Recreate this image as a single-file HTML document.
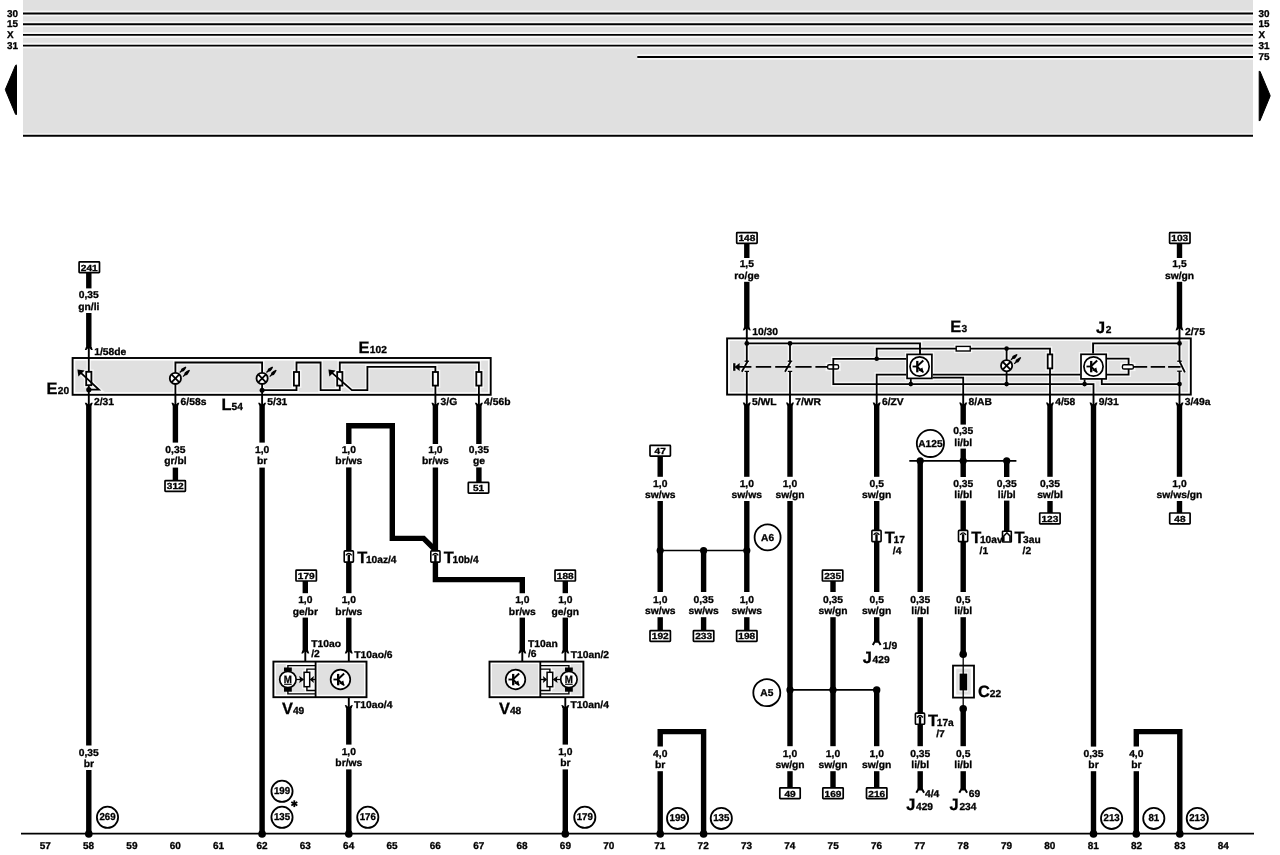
<!DOCTYPE html>
<html><head><meta charset="utf-8"><title>Wiring diagram</title>
<style>
html,body{margin:0;padding:0;background:#fff;}
svg{display:block;will-change:transform;}
svg text{font-family:"Liberation Sans",sans-serif;font-weight:bold;fill:#000;stroke:#000;stroke-width:0.3px;text-rendering:geometricPrecision;}
</style></head>
<body>
<svg width="1280" height="855" viewBox="0 0 1280 855">
<rect x="0" y="0" width="1280" height="855" fill="#fff"/>
<rect x="23" y="0" width="1230" height="133.5" fill="#e0e0e0"/>
<rect x="75.19999999999999" y="360.4" width="412.90000000000003" height="32.000000000000014" fill="#e0e0e0"/>
<rect x="275.8" y="664" width="88.3" height="30.8" fill="#e0e0e0"/>
<rect x="303.9" y="669.5" width="10.7" height="20.6" fill="#f2f2f2"/>
<rect x="491.9" y="664" width="89.1" height="30.8" fill="#e0e0e0"/>
<rect x="541.3" y="669.5" width="11.6" height="20.6" fill="#f2f2f2"/>
<rect x="729.7" y="340.79999999999995" width="458.49999999999994" height="51.40000000000005" fill="#e0e0e0"/>
<line x1="23" y1="13.5" x2="1253" y2="13.5" stroke="#fff" stroke-opacity="0.72" stroke-width="5.5"/>
<line x1="23" y1="24.2" x2="1253" y2="24.2" stroke="#fff" stroke-opacity="0.72" stroke-width="5.5"/>
<line x1="23" y1="34.9" x2="1253" y2="34.9" stroke="#fff" stroke-opacity="0.72" stroke-width="5.5"/>
<line x1="23" y1="45.6" x2="1253" y2="45.6" stroke="#fff" stroke-opacity="0.72" stroke-width="5.5"/>
<line x1="637.3" y1="57" x2="1253" y2="57" stroke="#fff" stroke-opacity="0.72" stroke-width="5.5"/>
<line x1="23" y1="135.7" x2="1253" y2="135.7" stroke="#fff" stroke-opacity="0.72" stroke-width="2.1"/>
<line x1="21" y1="833.6" x2="1254" y2="833.6" stroke="#fff" stroke-opacity="0.72" stroke-width="4.7"/>
<rect x="72.6" y="358" width="418.1" height="36.8" fill="none" stroke="#fff" stroke-opacity="0.72" stroke-width="4.7"/>
<line x1="88.8" y1="358" x2="88.8" y2="394.8" stroke="#fff" stroke-opacity="0.72" stroke-width="4.6"/>
<rect x="86.2" y="371.8" width="5.2" height="13.4" fill="none" stroke="#fff" stroke-opacity="0.72" stroke-width="4.6"/>
<polyline points="79.8,371.8 98.9,389.7 88.8,389.7" fill="none" stroke="#fff" stroke-opacity="0.72" stroke-width="4.6"/>
<polyline points="175.4,394.8 175.4,362.5 262.1,362.5 262.1,394.8" fill="none" stroke="#fff" stroke-opacity="0.72" stroke-width="4.6"/>
<line x1="171.7" y1="374.7" x2="179.1" y2="382.1" stroke="#fff" stroke-opacity="0.72" stroke-width="4.6"/>
<line x1="171.7" y1="382.1" x2="179.1" y2="374.7" stroke="#fff" stroke-opacity="0.72" stroke-width="4.6"/>
<line x1="258.4" y1="374.7" x2="265.8" y2="382.1" stroke="#fff" stroke-opacity="0.72" stroke-width="4.6"/>
<line x1="258.4" y1="382.1" x2="265.8" y2="374.7" stroke="#fff" stroke-opacity="0.72" stroke-width="4.6"/>
<polyline points="262.1,390.2 296.5,390.2 296.5,362.5 320.6,362.5 320.6,390.2 339.8,390.2 339.8,362.5 478.9,362.5 478.9,394.8" fill="none" stroke="#fff" stroke-opacity="0.72" stroke-width="4.6"/>
<rect x="293.9" y="372" width="5.2" height="13.6" fill="none" stroke="#fff" stroke-opacity="0.72" stroke-width="4.6"/>
<rect x="337.2" y="372" width="5.2" height="13.6" fill="none" stroke="#fff" stroke-opacity="0.72" stroke-width="4.6"/>
<rect x="476.3" y="372" width="5.2" height="13.6" fill="none" stroke="#fff" stroke-opacity="0.72" stroke-width="4.6"/>
<polyline points="330.6,371.6 351.9,390.2 367.4,390.2 367.4,366.9 435.4,366.9 435.4,394.8" fill="none" stroke="#fff" stroke-opacity="0.72" stroke-width="4.6"/>
<rect x="432.8" y="372" width="5.2" height="13.6" fill="none" stroke="#fff" stroke-opacity="0.72" stroke-width="4.6"/>
<rect x="79.1" y="261.8" width="20.4" height="10.8" fill="none" stroke="#fff" stroke-opacity="0.72" stroke-width="4.5"/>
<line x1="88.8" y1="346.7" x2="88.8" y2="358" stroke="#fff" stroke-opacity="0.72" stroke-width="4.7"/>
<line x1="88.8" y1="394.8" x2="88.8" y2="405.7" stroke="#fff" stroke-opacity="0.72" stroke-width="4.7"/>
<line x1="175.4" y1="394.8" x2="175.4" y2="405.7" stroke="#fff" stroke-opacity="0.72" stroke-width="4.7"/>
<rect x="165" y="480.6" width="20.4" height="10.8" fill="none" stroke="#fff" stroke-opacity="0.72" stroke-width="4.5"/>
<line x1="262.1" y1="394.8" x2="262.1" y2="405.7" stroke="#fff" stroke-opacity="0.72" stroke-width="4.7"/>
<line x1="294.3" y1="800.3" x2="294.3" y2="807.1" stroke="#fff" stroke-opacity="0.72" stroke-width="4.6"/>
<line x1="291.3" y1="801.9" x2="297.3" y2="805.5" stroke="#fff" stroke-opacity="0.72" stroke-width="4.6"/>
<line x1="291.3" y1="805.5" x2="297.3" y2="801.9" stroke="#fff" stroke-opacity="0.72" stroke-width="4.6"/>
<polyline points="348.8,444 348.8,425.8 392.3,425.8 392.3,538.4 423.6,538.4 435.4,550.2" fill="none" stroke="#fff" stroke-opacity="0.72" stroke-width="8.2"/>
<rect x="344.2" y="550.9" width="9.2" height="11.2" fill="none" stroke="#fff" stroke-opacity="0.72" stroke-width="4.4"/>
<line x1="348.8" y1="554.7" x2="348.8" y2="562.1" stroke="#fff" stroke-opacity="0.72" stroke-width="5.2"/>
<line x1="435.4" y1="394.8" x2="435.4" y2="405.7" stroke="#fff" stroke-opacity="0.72" stroke-width="4.7"/>
<polyline points="435.4,467.4 435.4,579.6 522.3,579.6 522.3,593.2" fill="none" stroke="#fff" stroke-opacity="0.72" stroke-width="8.2"/>
<rect x="430.8" y="550.9" width="9.2" height="11.2" fill="none" stroke="#fff" stroke-opacity="0.72" stroke-width="4.4"/>
<line x1="435.4" y1="554.7" x2="435.4" y2="562.1" stroke="#fff" stroke-opacity="0.72" stroke-width="5.2"/>
<line x1="478.9" y1="394.8" x2="478.9" y2="405.7" stroke="#fff" stroke-opacity="0.72" stroke-width="4.7"/>
<rect x="468.3" y="482.4" width="20.4" height="10.8" fill="none" stroke="#fff" stroke-opacity="0.72" stroke-width="4.5"/>
<rect x="273.4" y="661.6" width="93.1" height="35.6" fill="none" stroke="#fff" stroke-opacity="0.72" stroke-width="4.7"/>
<line x1="315.6" y1="661.6" x2="315.6" y2="697.2" stroke="#fff" stroke-opacity="0.72" stroke-width="4.6"/>
<polyline points="287.9,668.5 287.9,665.6 315.6,665.6" fill="none" stroke="#fff" stroke-opacity="0.72" stroke-width="4.2"/>
<polyline points="287.9,690.5 287.9,693.9 315.6,693.9" fill="none" stroke="#fff" stroke-opacity="0.72" stroke-width="4.2"/>
<line x1="284.1" y1="684.3" x2="291.7" y2="684.3" stroke="#fff" stroke-opacity="0.72" stroke-width="1.1"/>
<polyline points="306.9,672.5 306.9,669.1 315.6,669.1" fill="none" stroke="#fff" stroke-opacity="0.72" stroke-width="4.2"/>
<polyline points="306.9,686.5 306.9,690.5 315.6,690.5" fill="none" stroke="#fff" stroke-opacity="0.72" stroke-width="4.2"/>
<rect x="304.1" y="672.3" width="5.6" height="14.4" fill="none" stroke="#fff" stroke-opacity="0.72" stroke-width="4.3"/>
<line x1="296.2" y1="679.5" x2="301.9" y2="679.5" stroke="#fff" stroke-opacity="0.72" stroke-width="4.1"/>
<line x1="315.6" y1="679.5" x2="311.9" y2="679.5" stroke="#fff" stroke-opacity="0.72" stroke-width="4.1"/>
<line x1="338.15" y1="673.9" x2="338.15" y2="685.3" stroke="#fff" stroke-opacity="0.72" stroke-width="5.1"/>
<line x1="333.45" y1="679.5" x2="338.15" y2="679.5" stroke="#fff" stroke-opacity="0.72" stroke-width="4.6"/>
<line x1="338.55" y1="678.7" x2="344.15" y2="673.5" stroke="#fff" stroke-opacity="0.72" stroke-width="4.7"/>
<line x1="338.55" y1="680.3" x2="343.95" y2="685.1" stroke="#fff" stroke-opacity="0.72" stroke-width="4.7"/>
<rect x="489.5" y="661.6" width="93.9" height="35.6" fill="none" stroke="#fff" stroke-opacity="0.72" stroke-width="4.7"/>
<line x1="540.3" y1="661.6" x2="540.3" y2="697.2" stroke="#fff" stroke-opacity="0.72" stroke-width="4.6"/>
<polyline points="568.9,668.5 568.9,665.6 540.3,665.6" fill="none" stroke="#fff" stroke-opacity="0.72" stroke-width="4.2"/>
<polyline points="568.9,690.5 568.9,693.9 540.3,693.9" fill="none" stroke="#fff" stroke-opacity="0.72" stroke-width="4.2"/>
<line x1="565.1" y1="684.3" x2="572.7" y2="684.3" stroke="#fff" stroke-opacity="0.72" stroke-width="1.1"/>
<polyline points="549.9,672.5 549.9,669.1 540.3,669.1" fill="none" stroke="#fff" stroke-opacity="0.72" stroke-width="4.2"/>
<polyline points="549.9,686.5 549.9,690.5 540.3,690.5" fill="none" stroke="#fff" stroke-opacity="0.72" stroke-width="4.2"/>
<rect x="547.1" y="672.3" width="5.6" height="14.4" fill="none" stroke="#fff" stroke-opacity="0.72" stroke-width="4.3"/>
<line x1="560.6" y1="679.5" x2="554.9" y2="679.5" stroke="#fff" stroke-opacity="0.72" stroke-width="4.1"/>
<line x1="540.3" y1="679.5" x2="544.9" y2="679.5" stroke="#fff" stroke-opacity="0.72" stroke-width="4.1"/>
<line x1="513.2" y1="673.9" x2="513.2" y2="685.3" stroke="#fff" stroke-opacity="0.72" stroke-width="5.1"/>
<line x1="508.5" y1="679.5" x2="513.2" y2="679.5" stroke="#fff" stroke-opacity="0.72" stroke-width="4.6"/>
<line x1="513.6" y1="678.7" x2="519.2" y2="673.5" stroke="#fff" stroke-opacity="0.72" stroke-width="4.7"/>
<line x1="513.6" y1="680.3" x2="519" y2="685.1" stroke="#fff" stroke-opacity="0.72" stroke-width="4.7"/>
<rect x="296" y="570.2" width="20.4" height="10.8" fill="none" stroke="#fff" stroke-opacity="0.72" stroke-width="4.5"/>
<line x1="305.3" y1="650.3" x2="305.3" y2="661.6" stroke="#fff" stroke-opacity="0.72" stroke-width="4.7"/>
<line x1="348.8" y1="650.3" x2="348.8" y2="661.6" stroke="#fff" stroke-opacity="0.72" stroke-width="4.7"/>
<line x1="348.8" y1="697.2" x2="348.8" y2="708.1" stroke="#fff" stroke-opacity="0.72" stroke-width="4.7"/>
<line x1="522.3" y1="650.3" x2="522.3" y2="661.6" stroke="#fff" stroke-opacity="0.72" stroke-width="4.7"/>
<rect x="555" y="570.2" width="20.4" height="10.8" fill="none" stroke="#fff" stroke-opacity="0.72" stroke-width="4.5"/>
<line x1="565.3" y1="650.3" x2="565.3" y2="661.6" stroke="#fff" stroke-opacity="0.72" stroke-width="4.7"/>
<line x1="565.3" y1="697.2" x2="565.3" y2="708.1" stroke="#fff" stroke-opacity="0.72" stroke-width="4.7"/>
<polyline points="660.2,746.6 660.2,731.6 703.6,731.6 703.6,833.6" fill="none" stroke="#fff" stroke-opacity="0.72" stroke-width="8.2"/>
<rect x="727.1" y="338.4" width="463.7" height="56.2" fill="none" stroke="#fff" stroke-opacity="0.72" stroke-width="4.7"/>
<line x1="746.8" y1="338.4" x2="746.8" y2="343.4" stroke="#fff" stroke-opacity="0.72" stroke-width="4.6"/>
<polyline points="746.8,343.4 920,343.4 920,354" fill="none" stroke="#fff" stroke-opacity="0.72" stroke-width="4.7"/>
<line x1="746.8" y1="343.4" x2="746.8" y2="361.2" stroke="#fff" stroke-opacity="0.72" stroke-width="4.6"/>
<line x1="744.6" y1="361.2" x2="749" y2="361.2" stroke="#fff" stroke-opacity="0.72" stroke-width="4.1"/>
<line x1="744.6" y1="371.4" x2="749" y2="371.4" stroke="#fff" stroke-opacity="0.72" stroke-width="4.1"/>
<line x1="746.8" y1="371.4" x2="746.8" y2="394.6" stroke="#fff" stroke-opacity="0.72" stroke-width="4.6"/>
<line x1="741.8" y1="371.8" x2="747.8" y2="361" stroke="#fff" stroke-opacity="0.72" stroke-width="4.6"/>
<line x1="790" y1="343.4" x2="790" y2="361.2" stroke="#fff" stroke-opacity="0.72" stroke-width="4.6"/>
<line x1="787.8" y1="361.2" x2="792.2" y2="361.2" stroke="#fff" stroke-opacity="0.72" stroke-width="4.1"/>
<line x1="787.8" y1="371.4" x2="792.2" y2="371.4" stroke="#fff" stroke-opacity="0.72" stroke-width="4.1"/>
<line x1="790" y1="371.4" x2="790" y2="394.6" stroke="#fff" stroke-opacity="0.72" stroke-width="4.6"/>
<line x1="785" y1="371.8" x2="791" y2="361" stroke="#fff" stroke-opacity="0.72" stroke-width="4.6"/>
<line x1="734.3" y1="363.2" x2="734.3" y2="370.8" stroke="#fff" stroke-opacity="0.72" stroke-width="5.1"/>
<rect x="827.6" y="364.8" width="11" height="4.2" fill="none" stroke="#fff" stroke-opacity="0.72" stroke-width="4.2"/>
<polyline points="906.3,358.8 833.3,358.8 833.3,384.1 1093.5,384.1 1093.5,394.6" fill="none" stroke="#fff" stroke-opacity="0.72" stroke-width="4.6"/>
<polyline points="876.7,358.8 876.7,348.6 1050,348.6 1050,394.6" fill="none" stroke="#fff" stroke-opacity="0.72" stroke-width="4.6"/>
<rect x="956.2" y="346.4" width="14" height="4.6" fill="none" stroke="#fff" stroke-opacity="0.72" stroke-width="4.2"/>
<line x1="1006.6" y1="348.6" x2="1006.6" y2="384.1" stroke="#fff" stroke-opacity="0.72" stroke-width="4.6"/>
<line x1="1002.9" y1="362" x2="1010.3" y2="369.4" stroke="#fff" stroke-opacity="0.72" stroke-width="4.6"/>
<line x1="1002.9" y1="369.4" x2="1010.3" y2="362" stroke="#fff" stroke-opacity="0.72" stroke-width="4.6"/>
<rect x="1047.7" y="354.4" width="4.6" height="14" fill="none" stroke="#fff" stroke-opacity="0.72" stroke-width="4.6"/>
<polyline points="906.3,374.6 876.7,374.6 876.7,394.6" fill="none" stroke="#fff" stroke-opacity="0.72" stroke-width="4.6"/>
<line x1="932.7" y1="374.6" x2="1080.3" y2="374.6" stroke="#fff" stroke-opacity="0.72" stroke-width="4.6"/>
<polyline points="932.7,377.6 963.2,377.6 963.2,394.6" fill="none" stroke="#fff" stroke-opacity="0.72" stroke-width="4.6"/>
<rect x="907.1" y="354.4" width="24.8" height="24" fill="none" stroke="#fff" stroke-opacity="0.72" stroke-width="4.5"/>
<line x1="917.3" y1="360.9" x2="917.3" y2="372.3" stroke="#fff" stroke-opacity="0.72" stroke-width="5.1"/>
<line x1="912.6" y1="366.5" x2="917.3" y2="366.5" stroke="#fff" stroke-opacity="0.72" stroke-width="4.6"/>
<line x1="917.7" y1="365.7" x2="923.3" y2="360.5" stroke="#fff" stroke-opacity="0.72" stroke-width="4.7"/>
<line x1="917.7" y1="367.3" x2="923.1" y2="372.1" stroke="#fff" stroke-opacity="0.72" stroke-width="4.7"/>
<line x1="910.8" y1="379.1" x2="910.8" y2="384.1" stroke="#fff" stroke-opacity="0.72" stroke-width="4.6"/>
<polyline points="1093.1,353.6 1093.1,343.4 1179.5,343.4" fill="none" stroke="#fff" stroke-opacity="0.72" stroke-width="4.7"/>
<polyline points="1106.9,358.7 1128.6,358.7 1128.6,374.7 1106.9,374.7" fill="none" stroke="#fff" stroke-opacity="0.72" stroke-width="4.6"/>
<rect x="1122.4" y="364.8" width="11" height="4.2" fill="none" stroke="#fff" stroke-opacity="0.72" stroke-width="4.2"/>
<polyline points="1101.8,379 1101.8,384.1 1179.5,384.1" fill="none" stroke="#fff" stroke-opacity="0.72" stroke-width="4.6"/>
<line x1="1084.6" y1="379.6" x2="1084.6" y2="384.1" stroke="#fff" stroke-opacity="0.72" stroke-width="4.6"/>
<rect x="1081" y="354.3" width="25.2" height="24.6" fill="none" stroke="#fff" stroke-opacity="0.72" stroke-width="4.5"/>
<line x1="1091.2" y1="360.9" x2="1091.2" y2="372.3" stroke="#fff" stroke-opacity="0.72" stroke-width="5.1"/>
<line x1="1086.5" y1="366.5" x2="1091.2" y2="366.5" stroke="#fff" stroke-opacity="0.72" stroke-width="4.6"/>
<line x1="1091.6" y1="365.7" x2="1097.2" y2="360.5" stroke="#fff" stroke-opacity="0.72" stroke-width="4.7"/>
<line x1="1091.6" y1="367.3" x2="1097" y2="372.1" stroke="#fff" stroke-opacity="0.72" stroke-width="4.7"/>
<line x1="1179.5" y1="338.4" x2="1179.5" y2="361.2" stroke="#fff" stroke-opacity="0.72" stroke-width="4.6"/>
<line x1="1177.2" y1="361.2" x2="1181.8" y2="361.2" stroke="#fff" stroke-opacity="0.72" stroke-width="4.1"/>
<line x1="1177.2" y1="371.2" x2="1181.8" y2="371.2" stroke="#fff" stroke-opacity="0.72" stroke-width="4.1"/>
<line x1="1179.5" y1="371.2" x2="1179.5" y2="394.6" stroke="#fff" stroke-opacity="0.72" stroke-width="4.6"/>
<line x1="1179.3" y1="360.8" x2="1184.9" y2="372.4" stroke="#fff" stroke-opacity="0.72" stroke-width="4.6"/>
<rect x="736.7" y="232.6" width="20.4" height="10.8" fill="none" stroke="#fff" stroke-opacity="0.72" stroke-width="4.5"/>
<line x1="746.8" y1="327.1" x2="746.8" y2="338.4" stroke="#fff" stroke-opacity="0.72" stroke-width="4.7"/>
<line x1="746.8" y1="394.6" x2="746.8" y2="405.5" stroke="#fff" stroke-opacity="0.72" stroke-width="4.7"/>
<rect x="736.6" y="630.6" width="20.4" height="10.8" fill="none" stroke="#fff" stroke-opacity="0.72" stroke-width="4.5"/>
<rect x="650" y="445.4" width="20.4" height="10.8" fill="none" stroke="#fff" stroke-opacity="0.72" stroke-width="4.5"/>
<rect x="650" y="630.6" width="20.4" height="10.8" fill="none" stroke="#fff" stroke-opacity="0.72" stroke-width="4.5"/>
<rect x="693.4" y="630.6" width="20.4" height="10.8" fill="none" stroke="#fff" stroke-opacity="0.72" stroke-width="4.5"/>
<line x1="660.2" y1="550.5" x2="746.8" y2="550.5" stroke="#fff" stroke-opacity="0.72" stroke-width="4.5"/>
<line x1="790" y1="394.6" x2="790" y2="405.5" stroke="#fff" stroke-opacity="0.72" stroke-width="4.7"/>
<rect x="779.8" y="787.8" width="20.4" height="10.8" fill="none" stroke="#fff" stroke-opacity="0.72" stroke-width="4.5"/>
<rect x="822.4" y="570.2" width="20.4" height="10.8" fill="none" stroke="#fff" stroke-opacity="0.72" stroke-width="4.5"/>
<rect x="822.8" y="787.8" width="20.4" height="10.8" fill="none" stroke="#fff" stroke-opacity="0.72" stroke-width="4.5"/>
<line x1="790" y1="689.9" x2="876.7" y2="689.9" stroke="#fff" stroke-opacity="0.72" stroke-width="4.5"/>
<rect x="866.5" y="787.8" width="20.4" height="10.8" fill="none" stroke="#fff" stroke-opacity="0.72" stroke-width="4.5"/>
<line x1="876.7" y1="394.6" x2="876.7" y2="405.5" stroke="#fff" stroke-opacity="0.72" stroke-width="4.7"/>
<rect x="871.9" y="530.4" width="9.2" height="11.2" fill="none" stroke="#fff" stroke-opacity="0.72" stroke-width="4.4"/>
<line x1="876.5" y1="534.2" x2="876.5" y2="541.6" stroke="#fff" stroke-opacity="0.72" stroke-width="5.2"/>
<polyline points="872.8,644.9 874.7,641.8 878.7,641.8 880.6,644.9" fill="none" stroke="#fff" stroke-opacity="0.72" stroke-width="4.8"/>
<line x1="909.3" y1="460.8" x2="1016.4" y2="460.8" stroke="#fff" stroke-opacity="0.72" stroke-width="4.5"/>
<rect x="915.4" y="713.1" width="9.2" height="11.2" fill="none" stroke="#fff" stroke-opacity="0.72" stroke-width="4.4"/>
<line x1="920" y1="716.9" x2="920" y2="724.3" stroke="#fff" stroke-opacity="0.72" stroke-width="5.2"/>
<polyline points="916.3,792.7 918.2,789.6 922.2,789.6 924.1,792.7" fill="none" stroke="#fff" stroke-opacity="0.72" stroke-width="4.8"/>
<line x1="963.2" y1="394.6" x2="963.2" y2="405.5" stroke="#fff" stroke-opacity="0.72" stroke-width="4.7"/>
<rect x="958.5" y="530.4" width="9.2" height="11.2" fill="none" stroke="#fff" stroke-opacity="0.72" stroke-width="4.4"/>
<line x1="963.1" y1="534.2" x2="963.1" y2="541.6" stroke="#fff" stroke-opacity="0.72" stroke-width="5.2"/>
<line x1="963.2" y1="654.3" x2="963.2" y2="708.8" stroke="#fff" stroke-opacity="0.72" stroke-width="4.1"/>
<rect x="953" y="665.6" width="21" height="32" fill="none" stroke="#fff" stroke-opacity="0.72" stroke-width="4.6"/>
<line x1="963.2" y1="665.6" x2="963.2" y2="674" stroke="#fff" stroke-opacity="0.72" stroke-width="4.1"/>
<line x1="963.2" y1="690" x2="963.2" y2="697.6" stroke="#fff" stroke-opacity="0.72" stroke-width="4.1"/>
<polyline points="959.3,792.7 961.2,789.6 965.2,789.6 967.1,792.7" fill="none" stroke="#fff" stroke-opacity="0.72" stroke-width="4.8"/>
<rect x="1002.5" y="531.2" width="8.8" height="10.8" fill="none" stroke="#fff" stroke-opacity="0.72" stroke-width="4.4"/>
<polyline points="1003.8,541.6 1003.8,536 1006.9,532.8 1010,536 1010,541.6" fill="none" stroke="#fff" stroke-opacity="0.72" stroke-width="4.4"/>
<line x1="1050" y1="394.6" x2="1050" y2="405.5" stroke="#fff" stroke-opacity="0.72" stroke-width="4.7"/>
<rect x="1039.7" y="513" width="20.4" height="10.8" fill="none" stroke="#fff" stroke-opacity="0.72" stroke-width="4.5"/>
<line x1="1093.5" y1="394.6" x2="1093.5" y2="405.5" stroke="#fff" stroke-opacity="0.72" stroke-width="4.7"/>
<rect x="1169.6" y="232.6" width="20.4" height="10.8" fill="none" stroke="#fff" stroke-opacity="0.72" stroke-width="4.5"/>
<line x1="1179.5" y1="327.1" x2="1179.5" y2="338.4" stroke="#fff" stroke-opacity="0.72" stroke-width="4.7"/>
<line x1="1179.5" y1="394.6" x2="1179.5" y2="405.5" stroke="#fff" stroke-opacity="0.72" stroke-width="4.7"/>
<rect x="1169.7" y="513" width="20.4" height="10.8" fill="none" stroke="#fff" stroke-opacity="0.72" stroke-width="4.5"/>
<polyline points="1136.3,746.6 1136.3,731.6 1179.8,731.6 1179.8,833.6" fill="none" stroke="#fff" stroke-opacity="0.72" stroke-width="8.2"/>
<line x1="23" y1="13.5" x2="1253" y2="13.5" stroke="#000" stroke-width="1.9" />
<line x1="23" y1="24.2" x2="1253" y2="24.2" stroke="#000" stroke-width="1.9" />
<line x1="23" y1="34.9" x2="1253" y2="34.9" stroke="#000" stroke-width="1.9" />
<line x1="23" y1="45.6" x2="1253" y2="45.6" stroke="#000" stroke-width="1.9" />
<line x1="637.3" y1="57" x2="1253" y2="57" stroke="#000" stroke-width="1.9" />
<line x1="23" y1="135.7" x2="1253" y2="135.7" stroke="#000" stroke-width="2.1" />
<text transform="translate(7 16.8) scale(1.0 1)" font-size="9.9" text-anchor="start" >30</text>
<text transform="translate(7 27.4) scale(1.0 1)" font-size="9.9" text-anchor="start" >15</text>
<text transform="translate(7 38) scale(1.0 1)" font-size="9.9" text-anchor="start" >X</text>
<text transform="translate(7 48.8) scale(1.0 1)" font-size="9.9" text-anchor="start" >31</text>
<text transform="translate(1258.6 16.8) scale(1.0 1)" font-size="9.9" text-anchor="start" >30</text>
<text transform="translate(1258.6 27.4) scale(1.0 1)" font-size="9.9" text-anchor="start" >15</text>
<text transform="translate(1258.6 38) scale(1.0 1)" font-size="9.9" text-anchor="start" >X</text>
<text transform="translate(1258.6 48.8) scale(1.0 1)" font-size="9.9" text-anchor="start" >31</text>
<text transform="translate(1258.6 60.1) scale(1.0 1)" font-size="9.9" text-anchor="start" >75</text>
<path d="M16.5,65.6 L16.5,114.0 Q16.5,115.6 15.4,113.9 L5.5,90.3 Q5.2,89.7 5.5,89.1 L15.4,65.7 Q16.5,64.0 16.5,65.6Z" stroke="#000" stroke-width="1" stroke-linejoin="round"/>
<path d="M1259.2,71.6 L1259.2,120.4 Q1259.2,121.8 1260.2,120.2 L1270.0,96.4 Q1270.3,95.8 1270.0,95.2 L1260.2,71.8 Q1259.2,70.2 1259.2,71.6Z" stroke="#000" stroke-width="1" stroke-linejoin="round"/>
<line x1="21" y1="833.6" x2="1254" y2="833.6" stroke="#000" stroke-width="1.9" />
<text transform="translate(45.2 849.4) scale(1.0 1)" font-size="10" text-anchor="middle" >57</text>
<text transform="translate(88.55 849.4) scale(1.0 1)" font-size="10" text-anchor="middle" >58</text>
<text transform="translate(131.9 849.4) scale(1.0 1)" font-size="10" text-anchor="middle" >59</text>
<text transform="translate(175.25 849.4) scale(1.0 1)" font-size="10" text-anchor="middle" >60</text>
<text transform="translate(218.6 849.4) scale(1.0 1)" font-size="10" text-anchor="middle" >61</text>
<text transform="translate(261.95 849.4) scale(1.0 1)" font-size="10" text-anchor="middle" >62</text>
<text transform="translate(305.3 849.4) scale(1.0 1)" font-size="10" text-anchor="middle" >63</text>
<text transform="translate(348.65 849.4) scale(1.0 1)" font-size="10" text-anchor="middle" >64</text>
<text transform="translate(392 849.4) scale(1.0 1)" font-size="10" text-anchor="middle" >65</text>
<text transform="translate(435.35 849.4) scale(1.0 1)" font-size="10" text-anchor="middle" >66</text>
<text transform="translate(478.7 849.4) scale(1.0 1)" font-size="10" text-anchor="middle" >67</text>
<text transform="translate(522.05 849.4) scale(1.0 1)" font-size="10" text-anchor="middle" >68</text>
<text transform="translate(565.4 849.4) scale(1.0 1)" font-size="10" text-anchor="middle" >69</text>
<text transform="translate(608.75 849.4) scale(1.0 1)" font-size="10" text-anchor="middle" >70</text>
<text transform="translate(659.8 849.4) scale(1.0 1)" font-size="10" text-anchor="middle" >71</text>
<text transform="translate(703.14 849.4) scale(1.0 1)" font-size="10" text-anchor="middle" >72</text>
<text transform="translate(746.48 849.4) scale(1.0 1)" font-size="10" text-anchor="middle" >73</text>
<text transform="translate(789.82 849.4) scale(1.0 1)" font-size="10" text-anchor="middle" >74</text>
<text transform="translate(833.16 849.4) scale(1.0 1)" font-size="10" text-anchor="middle" >75</text>
<text transform="translate(876.5 849.4) scale(1.0 1)" font-size="10" text-anchor="middle" >76</text>
<text transform="translate(919.84 849.4) scale(1.0 1)" font-size="10" text-anchor="middle" >77</text>
<text transform="translate(963.18 849.4) scale(1.0 1)" font-size="10" text-anchor="middle" >78</text>
<text transform="translate(1006.52 849.4) scale(1.0 1)" font-size="10" text-anchor="middle" >79</text>
<text transform="translate(1049.86 849.4) scale(1.0 1)" font-size="10" text-anchor="middle" >80</text>
<text transform="translate(1093.2 849.4) scale(1.0 1)" font-size="10" text-anchor="middle" >81</text>
<text transform="translate(1136.54 849.4) scale(1.0 1)" font-size="10" text-anchor="middle" >82</text>
<text transform="translate(1179.88 849.4) scale(1.0 1)" font-size="10" text-anchor="middle" >83</text>
<text transform="translate(1223.22 849.4) scale(1.0 1)" font-size="10" text-anchor="middle" >84</text>
<rect x="72.6" y="358" width="418.1" height="36.8" fill="none" stroke="#000" stroke-width="1.9" rx="0"/>
<line x1="88.8" y1="358" x2="88.8" y2="394.8" stroke="#000" stroke-width="1.8" />
<rect x="86.2" y="371.8" width="5.2" height="13.4" fill="#fff" stroke="#000" stroke-width="1.8" rx="0"/>
<line x1="88.8" y1="371.8" x2="88.8" y2="385.2" stroke="#000" stroke-width="0" />
<polyline points="79.8,371.8 98.9,389.7 88.8,389.7" fill="none" stroke="#000" stroke-width="1.8" />
<polygon points="77.4,369.4 84.6,370.4 78.4,376.6" fill="#000" />
<circle cx="88.8" cy="389.7" r="2.6"/>
<polyline points="175.4,394.8 175.4,362.5 262.1,362.5 262.1,394.8" fill="none" stroke="#000" stroke-width="1.8" />
<circle cx="175.4" cy="378.4" r="5.6" fill="#fff" stroke="#000" stroke-width="1.8"/>
<line x1="171.7" y1="374.7" x2="179.1" y2="382.1" stroke="#000" stroke-width="1.8" />
<line x1="171.7" y1="382.1" x2="179.1" y2="374.7" stroke="#000" stroke-width="1.8" />
<polygon points="180.03,372.88 181.8,371.73 183.69,371.34 185,369.67 186.36,367.41 185.64,366.59 183.22,367.63 181.38,368.71 180.75,370.52 179.37,372.12" fill="#000" />
<polygon points="183.35,376.96 185.21,375.54 187.2,374.92 188.57,373.01 189.99,370.49 189.21,369.71 186.67,371.09 184.74,372.43 184.09,374.41 182.65,376.24" fill="#000" />
<circle cx="262.1" cy="378.4" r="5.6" fill="#fff" stroke="#000" stroke-width="1.8"/>
<line x1="258.4" y1="374.7" x2="265.8" y2="382.1" stroke="#000" stroke-width="1.8" />
<line x1="258.4" y1="382.1" x2="265.8" y2="374.7" stroke="#000" stroke-width="1.8" />
<polygon points="266.73,372.88 268.5,371.73 270.39,371.34 271.7,369.67 273.06,367.41 272.34,366.59 269.92,367.63 268.08,368.71 267.45,370.52 266.07,372.12" fill="#000" />
<polygon points="270.05,376.96 271.91,375.54 273.9,374.92 275.27,373.01 276.69,370.49 275.91,369.71 273.37,371.09 271.44,372.43 270.79,374.41 269.35,376.24" fill="#000" />
<circle cx="262.1" cy="390.2" r="2.5"/>
<polyline points="262.1,390.2 296.5,390.2 296.5,362.5 320.6,362.5 320.6,390.2 339.8,390.2 339.8,362.5 478.9,362.5 478.9,394.8" fill="none" stroke="#000" stroke-width="1.8" />
<rect x="293.9" y="372" width="5.2" height="13.6" fill="#fff" stroke="#000" stroke-width="1.8" rx="0"/>
<rect x="337.2" y="372" width="5.2" height="13.6" fill="#fff" stroke="#000" stroke-width="1.8" rx="0"/>
<rect x="476.3" y="372" width="5.2" height="13.6" fill="#fff" stroke="#000" stroke-width="1.8" rx="0"/>
<polyline points="330.6,371.6 351.9,390.2 367.4,390.2 367.4,366.9 435.4,366.9 435.4,394.8" fill="none" stroke="#000" stroke-width="1.8" />
<polygon points="328.4,369.4 335.6,370.4 329.4,376.6" fill="#000" />
<rect x="432.8" y="372" width="5.2" height="13.6" fill="#fff" stroke="#000" stroke-width="1.8" rx="0"/>
<text x="46.6" y="394.2" font-size="16.4">E</text>
<text transform="translate(57.84 394.2) scale(1.0 1)" font-size="10.2" text-anchor="start" >20</text>
<text x="221.6" y="410" font-size="16.4">L</text>
<text transform="translate(231.62 410) scale(1.0 1)" font-size="10.2" text-anchor="start" >54</text>
<text x="358.6" y="352.6" font-size="16.4">E</text>
<text transform="translate(369.84 352.6) scale(1.0 1)" font-size="10.2" text-anchor="start" >102</text>
<rect x="79.1" y="261.8" width="20.4" height="10.8" fill="#fff" stroke="#000" stroke-width="1.7" rx="0.6"/>
<text transform="translate(89.3 270.5) scale(1.15 1)" font-size="8.8" text-anchor="middle" >241</text>
<rect x="86.1" y="272.6" width="5.4" height="15.8"/>
<text transform="translate(88.8 298.4) scale(1.03 1)" font-size="10" text-anchor="middle" >0,35</text>
<text transform="translate(88.8 309.7) scale(1.03 1)" font-size="10" text-anchor="middle" >gn/li</text>
<line x1="88.8" y1="346.7" x2="88.8" y2="358" stroke="#000" stroke-width="1.9" />
<polygon points="84.8,350 86.4,349.9 88.8,347.5 91.2,349.9 92.8,350 91.7,347 85.9,347" fill="#000" />
<text transform="translate(94.2 354.8) scale(1.03 1)" font-size="10" text-anchor="start" >1/58de</text>
<rect x="86.1" y="313" width="5.4" height="34.7"/>
<line x1="88.8" y1="394.8" x2="88.8" y2="405.7" stroke="#000" stroke-width="1.9" />
<polygon points="84.8,402.7 86.4,402.8 88.8,405.1 91.2,402.8 92.8,402.7 91.7,405.6 85.9,405.6" fill="#000" />
<text transform="translate(94 404.8) scale(1.03 1)" font-size="10" text-anchor="start" >2/31</text>
<rect x="86.1" y="404.7" width="5.4" height="340.8"/>
<text transform="translate(88.8 755.5) scale(1.03 1)" font-size="10" text-anchor="middle" >0,35</text>
<text transform="translate(88.8 766.8) scale(1.03 1)" font-size="10" text-anchor="middle" >br</text>
<rect x="86.1" y="770" width="5.4" height="63.6"/>
<circle cx="88.8" cy="833.9" r="3.8"/>
<circle cx="107.5" cy="817.3" r="10.6" fill="#fff" stroke="#000" stroke-width="1.8"/>
<text transform="translate(107.5 820.2) scale(0.97 1)" font-size="10" text-anchor="middle" >269</text>
<line x1="175.4" y1="394.8" x2="175.4" y2="405.7" stroke="#000" stroke-width="1.9" />
<polygon points="171.4,402.7 173,402.8 175.4,405.1 177.8,402.8 179.4,402.7 178.3,405.6 172.5,405.6" fill="#000" />
<text transform="translate(180.6 404.8) scale(1.03 1)" font-size="10" text-anchor="start" >6/58s</text>
<rect x="172.7" y="404.7" width="5.4" height="37.9"/>
<text transform="translate(175.4 452.8) scale(1.03 1)" font-size="10" text-anchor="middle" >0,35</text>
<text transform="translate(175.4 464.1) scale(1.03 1)" font-size="10" text-anchor="middle" >gr/bl</text>
<rect x="172.7" y="467.6" width="5.4" height="13"/>
<rect x="165" y="480.6" width="20.4" height="10.8" fill="#fff" stroke="#000" stroke-width="1.7" rx="0.6"/>
<text transform="translate(175.2 489.3) scale(1.15 1)" font-size="8.8" text-anchor="middle" >312</text>
<line x1="262.1" y1="394.8" x2="262.1" y2="405.7" stroke="#000" stroke-width="1.9" />
<polygon points="258.1,402.7 259.7,402.8 262.1,405.1 264.5,402.8 266.1,402.7 265,405.6 259.2,405.6" fill="#000" />
<text transform="translate(267.3 404.8) scale(1.03 1)" font-size="10" text-anchor="start" >5/31</text>
<rect x="259.4" y="404.7" width="5.4" height="37.9"/>
<text transform="translate(262.1 452.8) scale(1.03 1)" font-size="10" text-anchor="middle" >1,0</text>
<text transform="translate(262.1 464.1) scale(1.03 1)" font-size="10" text-anchor="middle" >br</text>
<rect x="259.4" y="467.6" width="5.4" height="366"/>
<circle cx="262.1" cy="833.9" r="3.8"/>
<circle cx="282" cy="791.3" r="10.6" fill="#fff" stroke="#000" stroke-width="1.8"/>
<text transform="translate(282 794.2) scale(0.97 1)" font-size="10" text-anchor="middle" >199</text>
<circle cx="282" cy="817.3" r="10.6" fill="#fff" stroke="#000" stroke-width="1.8"/>
<text transform="translate(282 820.2) scale(0.97 1)" font-size="10" text-anchor="middle" >135</text>
<line x1="294.3" y1="800.3" x2="294.3" y2="807.1" stroke="#000" stroke-width="1.8" />
<line x1="291.3" y1="801.9" x2="297.3" y2="805.5" stroke="#000" stroke-width="1.8" />
<line x1="291.3" y1="805.5" x2="297.3" y2="801.9" stroke="#000" stroke-width="1.8" />
<polyline points="348.8,444 348.8,425.8 392.3,425.8 392.3,538.4 423.6,538.4 435.4,550.2" fill="none" stroke="#000" stroke-width="5.4" stroke-linejoin="miter"/>
<text transform="translate(348.8 452.8) scale(1.03 1)" font-size="10" text-anchor="middle" >1,0</text>
<text transform="translate(348.8 464.1) scale(1.03 1)" font-size="10" text-anchor="middle" >br/ws</text>
<rect x="346.1" y="467.4" width="5.4" height="125.8"/>
<rect x="344.2" y="550.9" width="9.2" height="11.2" fill="#fff" stroke="#000" stroke-width="1.6" rx="0.8"/>
<path d="M345.9,555.3 Q348.8,551.3 351.7,555.3" fill="none" stroke="#000" stroke-width="1.3"/>
<line x1="348.8" y1="554.7" x2="348.8" y2="562.1" stroke="#000" stroke-width="2.4" />
<text x="357.2" y="563.1" font-size="16.4">T</text>
<text transform="translate(365.92 563.1) scale(1.0 1)" font-size="10.2" text-anchor="start" >10az/4</text>
<text transform="translate(348.8 603.2) scale(1.03 1)" font-size="10" text-anchor="middle" >1,0</text>
<text transform="translate(348.8 614.5) scale(1.03 1)" font-size="10" text-anchor="middle" >br/ws</text>
<line x1="435.4" y1="394.8" x2="435.4" y2="405.7" stroke="#000" stroke-width="1.9" />
<polygon points="431.4,402.7 433,402.8 435.4,405.1 437.8,402.8 439.4,402.7 438.3,405.6 432.5,405.6" fill="#000" />
<text transform="translate(440.6 404.8) scale(1.03 1)" font-size="10" text-anchor="start" >3/G</text>
<rect x="432.7" y="404.7" width="5.4" height="39.3"/>
<text transform="translate(435.4 452.8) scale(1.03 1)" font-size="10" text-anchor="middle" >1,0</text>
<text transform="translate(435.4 464.1) scale(1.03 1)" font-size="10" text-anchor="middle" >br/ws</text>
<polyline points="435.4,467.4 435.4,579.6 522.3,579.6 522.3,593.2" fill="none" stroke="#000" stroke-width="5.4" />
<rect x="430.8" y="550.9" width="9.2" height="11.2" fill="#fff" stroke="#000" stroke-width="1.6" rx="0.8"/>
<path d="M432.5,555.3 Q435.4,551.3 438.3,555.3" fill="none" stroke="#000" stroke-width="1.3"/>
<line x1="435.4" y1="554.7" x2="435.4" y2="562.1" stroke="#000" stroke-width="2.4" />
<text x="443.8" y="563.1" font-size="16.4">T</text>
<text transform="translate(452.52 563.1) scale(1.0 1)" font-size="10.2" text-anchor="start" >10b/4</text>
<text transform="translate(522.3 603.2) scale(1.03 1)" font-size="10" text-anchor="middle" >1,0</text>
<text transform="translate(522.3 614.5) scale(1.03 1)" font-size="10" text-anchor="middle" >br/ws</text>
<line x1="478.9" y1="394.8" x2="478.9" y2="405.7" stroke="#000" stroke-width="1.9" />
<polygon points="474.9,402.7 476.5,402.8 478.9,405.1 481.3,402.8 482.9,402.7 481.8,405.6 476,405.6" fill="#000" />
<text transform="translate(484.1 404.8) scale(1.03 1)" font-size="10" text-anchor="start" >4/56b</text>
<rect x="476.2" y="404.7" width="5.4" height="39.3"/>
<text transform="translate(478.9 452.8) scale(1.03 1)" font-size="10" text-anchor="middle" >0,35</text>
<text transform="translate(478.9 464.1) scale(1.03 1)" font-size="10" text-anchor="middle" >ge</text>
<rect x="476.2" y="467.4" width="5.4" height="15"/>
<rect x="468.3" y="482.4" width="20.4" height="10.8" fill="#fff" stroke="#000" stroke-width="1.7" rx="0.6"/>
<text transform="translate(478.5 491.1) scale(1.15 1)" font-size="8.8" text-anchor="middle" >51</text>
<rect x="273.4" y="661.6" width="93.1" height="35.6" fill="none" stroke="#000" stroke-width="1.9" rx="0"/>
<line x1="315.6" y1="661.6" x2="315.6" y2="697.2" stroke="#000" stroke-width="1.8" />
<polyline points="287.9,668.5 287.9,665.6 315.6,665.6" fill="none" stroke="#000" stroke-width="1.4" />
<polyline points="287.9,690.5 287.9,693.9 315.6,693.9" fill="none" stroke="#000" stroke-width="1.4" />
<circle cx="287.9" cy="679.5" r="8.2" fill="#fff" stroke="#000" stroke-width="1.7"/>
<rect x="284" y="667.5" width="7.8" height="3.9"/>
<rect x="284" y="687.8" width="7.8" height="3.9"/>
<text transform="translate(287.9 682.5) scale(0.92 1)" font-size="10.6" text-anchor="middle" stroke-width="0">M</text>
<line x1="284.1" y1="684.3" x2="291.7" y2="684.3" stroke="#000" stroke-width="1.1" />
<polyline points="306.9,672.5 306.9,669.1 315.6,669.1" fill="none" stroke="#000" stroke-width="1.4" />
<polyline points="306.9,686.5 306.9,690.5 315.6,690.5" fill="none" stroke="#000" stroke-width="1.4" />
<rect x="304.1" y="672.3" width="5.6" height="14.4" fill="#fff" stroke="#000" stroke-width="1.5" rx="0"/>
<line x1="296.2" y1="679.5" x2="301.9" y2="679.5" stroke="#000" stroke-width="1.3" />
<polygon points="304.2,679.5 299.2,675.9 300,679.5 299.2,683.1" fill="#000" />
<line x1="315.6" y1="679.5" x2="311.9" y2="679.5" stroke="#000" stroke-width="1.3" />
<polygon points="309.6,679.5 313.9,676 313.2,679.5 313.9,683" fill="#000" />
<circle cx="340.45" cy="679.5" r="9.8" fill="#fff" stroke="#000" stroke-width="1.7"/>
<line x1="338.15" y1="673.9" x2="338.15" y2="685.3" stroke="#000" stroke-width="2.3" />
<line x1="333.45" y1="679.5" x2="338.15" y2="679.5" stroke="#000" stroke-width="1.8" />
<line x1="338.55" y1="678.7" x2="344.15" y2="673.5" stroke="#000" stroke-width="1.9" />
<line x1="338.55" y1="680.3" x2="343.95" y2="685.1" stroke="#000" stroke-width="1.9" />
<polygon points="344.55,685.9 339.15,683.3 343.25,680.5" fill="#000" />
<rect x="489.5" y="661.6" width="93.9" height="35.6" fill="none" stroke="#000" stroke-width="1.9" rx="0"/>
<line x1="540.3" y1="661.6" x2="540.3" y2="697.2" stroke="#000" stroke-width="1.8" />
<polyline points="568.9,668.5 568.9,665.6 540.3,665.6" fill="none" stroke="#000" stroke-width="1.4" />
<polyline points="568.9,690.5 568.9,693.9 540.3,693.9" fill="none" stroke="#000" stroke-width="1.4" />
<circle cx="568.9" cy="679.5" r="8.2" fill="#fff" stroke="#000" stroke-width="1.7"/>
<rect x="565" y="667.5" width="7.8" height="3.9"/>
<rect x="565" y="687.8" width="7.8" height="3.9"/>
<text transform="translate(568.9 682.5) scale(0.92 1)" font-size="10.6" text-anchor="middle" stroke-width="0">M</text>
<line x1="565.1" y1="684.3" x2="572.7" y2="684.3" stroke="#000" stroke-width="1.1" />
<polyline points="549.9,672.5 549.9,669.1 540.3,669.1" fill="none" stroke="#000" stroke-width="1.4" />
<polyline points="549.9,686.5 549.9,690.5 540.3,690.5" fill="none" stroke="#000" stroke-width="1.4" />
<rect x="547.1" y="672.3" width="5.6" height="14.4" fill="#fff" stroke="#000" stroke-width="1.5" rx="0"/>
<line x1="560.6" y1="679.5" x2="554.9" y2="679.5" stroke="#000" stroke-width="1.3" />
<polygon points="552.6,679.5 557.6,675.9 556.8,679.5 557.6,683.1" fill="#000" />
<line x1="540.3" y1="679.5" x2="544.9" y2="679.5" stroke="#000" stroke-width="1.3" />
<polygon points="547.2,679.5 542.9,676 543.6,679.5 542.9,683" fill="#000" />
<circle cx="515.5" cy="679.5" r="9.8" fill="#fff" stroke="#000" stroke-width="1.7"/>
<line x1="513.2" y1="673.9" x2="513.2" y2="685.3" stroke="#000" stroke-width="2.3" />
<line x1="508.5" y1="679.5" x2="513.2" y2="679.5" stroke="#000" stroke-width="1.8" />
<line x1="513.6" y1="678.7" x2="519.2" y2="673.5" stroke="#000" stroke-width="1.9" />
<line x1="513.6" y1="680.3" x2="519" y2="685.1" stroke="#000" stroke-width="1.9" />
<polygon points="519.6,685.9 514.2,683.3 518.3,680.5" fill="#000" />
<text x="282" y="713.6" font-size="16.4">V</text>
<text transform="translate(292.94 713.6) scale(1.0 1)" font-size="10.2" text-anchor="start" >49</text>
<text x="499" y="713.6" font-size="16.4">V</text>
<text transform="translate(509.94 713.6) scale(1.0 1)" font-size="10.2" text-anchor="start" >48</text>
<rect x="296" y="570.2" width="20.4" height="10.8" fill="#fff" stroke="#000" stroke-width="1.7" rx="0.6"/>
<text transform="translate(306.2 578.9) scale(1.15 1)" font-size="8.8" text-anchor="middle" >179</text>
<rect x="302.6" y="581" width="5.4" height="12.2"/>
<text transform="translate(305.3 603.2) scale(1.03 1)" font-size="10" text-anchor="middle" >1,0</text>
<text transform="translate(305.3 614.5) scale(1.03 1)" font-size="10" text-anchor="middle" >ge/br</text>
<line x1="305.3" y1="650.3" x2="305.3" y2="661.6" stroke="#000" stroke-width="1.9" />
<polygon points="301.3,653.6 302.9,653.5 305.3,651.1 307.7,653.5 309.3,653.6 308.2,650.6 302.4,650.6" fill="#000" />
<rect x="302.6" y="617.6" width="5.4" height="33.7"/>
<text transform="translate(311.2 647.2) scale(1.03 1)" font-size="10" text-anchor="start" >T10ao</text>
<text transform="translate(311.2 657.3) scale(1.03 1)" font-size="10" text-anchor="start" >/2</text>
<line x1="348.8" y1="650.3" x2="348.8" y2="661.6" stroke="#000" stroke-width="1.9" />
<polygon points="344.8,653.6 346.4,653.5 348.8,651.1 351.2,653.5 352.8,653.6 351.7,650.6 345.9,650.6" fill="#000" />
<text transform="translate(354.2 657.6) scale(1.03 1)" font-size="10" text-anchor="start" >T10ao/6</text>
<rect x="346.1" y="617.6" width="5.4" height="33.7"/>
<line x1="348.8" y1="697.2" x2="348.8" y2="708.1" stroke="#000" stroke-width="1.9" />
<polygon points="344.8,705.1 346.4,705.2 348.8,707.5 351.2,705.2 352.8,705.1 351.7,708 345.9,708" fill="#000" />
<text transform="translate(354 708.2) scale(1.03 1)" font-size="10" text-anchor="start" >T10ao/4</text>
<rect x="346.1" y="707.1" width="5.4" height="37.5"/>
<text transform="translate(348.8 754.6) scale(1.03 1)" font-size="10" text-anchor="middle" >1,0</text>
<text transform="translate(348.8 765.9) scale(1.03 1)" font-size="10" text-anchor="middle" >br/ws</text>
<rect x="346.1" y="769.4" width="5.4" height="64.2"/>
<circle cx="348.8" cy="833.9" r="3.8"/>
<circle cx="367.8" cy="817.3" r="10.6" fill="#fff" stroke="#000" stroke-width="1.8"/>
<text transform="translate(367.8 820.2) scale(0.97 1)" font-size="10" text-anchor="middle" >176</text>
<line x1="522.3" y1="650.3" x2="522.3" y2="661.6" stroke="#000" stroke-width="1.9" />
<polygon points="518.3,653.6 519.9,653.5 522.3,651.1 524.7,653.5 526.3,653.6 525.2,650.6 519.4,650.6" fill="#000" />
<rect x="519.6" y="617.6" width="5.4" height="33.7"/>
<text transform="translate(528 647.2) scale(1.03 1)" font-size="10" text-anchor="start" >T10an</text>
<text transform="translate(528 657.3) scale(1.03 1)" font-size="10" text-anchor="start" >/6</text>
<rect x="555" y="570.2" width="20.4" height="10.8" fill="#fff" stroke="#000" stroke-width="1.7" rx="0.6"/>
<text transform="translate(565.2 578.9) scale(1.15 1)" font-size="8.8" text-anchor="middle" >188</text>
<rect x="562.6" y="581" width="5.4" height="12.2"/>
<text transform="translate(565.3 603.2) scale(1.03 1)" font-size="10" text-anchor="middle" >1,0</text>
<text transform="translate(565.3 614.5) scale(1.03 1)" font-size="10" text-anchor="middle" >ge/gn</text>
<line x1="565.3" y1="650.3" x2="565.3" y2="661.6" stroke="#000" stroke-width="1.9" />
<polygon points="561.3,653.6 562.9,653.5 565.3,651.1 567.7,653.5 569.3,653.6 568.2,650.6 562.4,650.6" fill="#000" />
<text transform="translate(570.7 657.6) scale(1.03 1)" font-size="10" text-anchor="start" >T10an/2</text>
<rect x="562.6" y="617.6" width="5.4" height="33.7"/>
<line x1="565.3" y1="697.2" x2="565.3" y2="708.1" stroke="#000" stroke-width="1.9" />
<polygon points="561.3,705.1 562.9,705.2 565.3,707.5 567.7,705.2 569.3,705.1 568.2,708 562.4,708" fill="#000" />
<text transform="translate(570.5 708.2) scale(1.03 1)" font-size="10" text-anchor="start" >T10an/4</text>
<rect x="562.6" y="707.1" width="5.4" height="37.5"/>
<text transform="translate(565.3 754.6) scale(1.03 1)" font-size="10" text-anchor="middle" >1,0</text>
<text transform="translate(565.3 765.9) scale(1.03 1)" font-size="10" text-anchor="middle" >br</text>
<rect x="562.6" y="769.4" width="5.4" height="64.2"/>
<circle cx="565.3" cy="833.9" r="3.8"/>
<circle cx="584.8" cy="817.3" r="10.6" fill="#fff" stroke="#000" stroke-width="1.8"/>
<text transform="translate(584.8 820.2) scale(0.97 1)" font-size="10" text-anchor="middle" >179</text>
<polyline points="660.2,746.6 660.2,731.6 703.6,731.6 703.6,833.6" fill="none" stroke="#000" stroke-width="5.4" />
<text transform="translate(660.2 757) scale(1.03 1)" font-size="10" text-anchor="middle" >4,0</text>
<text transform="translate(660.2 768.3) scale(1.03 1)" font-size="10" text-anchor="middle" >br</text>
<rect x="657.5" y="771.2" width="5.4" height="62.4"/>
<circle cx="660.2" cy="833.9" r="3.8"/>
<circle cx="703.6" cy="833.9" r="3.8"/>
<circle cx="677.6" cy="818.4" r="10.6" fill="#fff" stroke="#000" stroke-width="1.8"/>
<text transform="translate(677.6 821.3) scale(0.97 1)" font-size="10" text-anchor="middle" >199</text>
<circle cx="721.3" cy="818.4" r="10.6" fill="#fff" stroke="#000" stroke-width="1.8"/>
<text transform="translate(721.3 821.3) scale(0.97 1)" font-size="10" text-anchor="middle" >135</text>
<rect x="727.1" y="338.4" width="463.7" height="56.2" fill="none" stroke="#000" stroke-width="1.9" rx="0"/>
<line x1="746.8" y1="338.4" x2="746.8" y2="343.4" stroke="#000" stroke-width="1.8" />
<polyline points="746.8,343.4 920,343.4 920,354" fill="none" stroke="#000" stroke-width="1.9" />
<circle cx="746.8" cy="343.4" r="2.4"/>
<circle cx="790" cy="343.4" r="2.4"/>
<line x1="746.8" y1="343.4" x2="746.8" y2="361.2" stroke="#000" stroke-width="1.8" />
<line x1="744.6" y1="361.2" x2="749" y2="361.2" stroke="#000" stroke-width="1.3" />
<line x1="744.6" y1="371.4" x2="749" y2="371.4" stroke="#000" stroke-width="1.3" />
<line x1="746.8" y1="371.4" x2="746.8" y2="394.6" stroke="#000" stroke-width="1.8" />
<line x1="741.8" y1="371.8" x2="747.8" y2="361" stroke="#000" stroke-width="1.8" />
<line x1="790" y1="343.4" x2="790" y2="361.2" stroke="#000" stroke-width="1.8" />
<line x1="787.8" y1="361.2" x2="792.2" y2="361.2" stroke="#000" stroke-width="1.3" />
<line x1="787.8" y1="371.4" x2="792.2" y2="371.4" stroke="#000" stroke-width="1.3" />
<line x1="790" y1="371.4" x2="790" y2="394.6" stroke="#000" stroke-width="1.8" />
<line x1="785" y1="371.8" x2="791" y2="361" stroke="#000" stroke-width="1.8" />
<line x1="739" y1="366.9" x2="827.6" y2="366.9" stroke="#000" stroke-width="1.8" stroke-dasharray="12.4 4.4 15.4 4.0 15.6 4.6 16.2 3.8 20 0"/>
<line x1="734.3" y1="363.2" x2="734.3" y2="370.8" stroke="#000" stroke-width="2.3" />
<polygon points="734.4,367 739.6,363 739.6,371" fill="#000" />
<rect x="827.6" y="364.8" width="11" height="4.2" fill="#fff" stroke="#000" stroke-width="1.4" rx="1.6"/>
<polyline points="906.3,358.8 833.3,358.8 833.3,384.1 1093.5,384.1 1093.5,394.6" fill="none" stroke="#000" stroke-width="1.8" />
<polyline points="876.7,358.8 876.7,348.6 1050,348.6 1050,394.6" fill="none" stroke="#000" stroke-width="1.8" />
<circle cx="876.7" cy="358.8" r="2.3"/>
<rect x="956.2" y="346.4" width="14" height="4.6" fill="#fff" stroke="#000" stroke-width="1.4" rx="0"/>
<line x1="1006.6" y1="348.6" x2="1006.6" y2="384.1" stroke="#000" stroke-width="1.8" />
<circle cx="1006.6" cy="348.6" r="2.3"/>
<circle cx="1006.6" cy="384.1" r="2.3"/>
<circle cx="1006.6" cy="365.7" r="5.6" fill="#fff" stroke="#000" stroke-width="1.8"/>
<line x1="1002.9" y1="362" x2="1010.3" y2="369.4" stroke="#000" stroke-width="1.8" />
<line x1="1002.9" y1="369.4" x2="1010.3" y2="362" stroke="#000" stroke-width="1.8" />
<polygon points="1011.23,360.18 1013,359.03 1014.89,358.64 1016.2,356.97 1017.56,354.71 1016.84,353.89 1014.42,354.93 1012.58,356.01 1011.95,357.82 1010.57,359.42" fill="#000" />
<polygon points="1014.55,364.26 1016.41,362.84 1018.4,362.22 1019.77,360.31 1021.19,357.79 1020.41,357.01 1017.87,358.39 1015.94,359.73 1015.29,361.71 1013.85,363.54" fill="#000" />
<rect x="1047.7" y="354.4" width="4.6" height="14" fill="#fff" stroke="#000" stroke-width="1.8" rx="0"/>
<polyline points="906.3,374.6 876.7,374.6 876.7,394.6" fill="none" stroke="#000" stroke-width="1.8" />
<line x1="932.7" y1="374.6" x2="1080.3" y2="374.6" stroke="#000" stroke-width="1.8" />
<polyline points="932.7,377.6 963.2,377.6 963.2,394.6" fill="none" stroke="#000" stroke-width="1.8" />
<rect x="907.1" y="354.4" width="24.8" height="24" fill="#fff" stroke="#000" stroke-width="1.7" rx="0"/>
<circle cx="919.6" cy="366.5" r="9.6" fill="#fff" stroke="#000" stroke-width="1.7"/>
<line x1="917.3" y1="360.9" x2="917.3" y2="372.3" stroke="#000" stroke-width="2.3" />
<line x1="912.6" y1="366.5" x2="917.3" y2="366.5" stroke="#000" stroke-width="1.8" />
<line x1="917.7" y1="365.7" x2="923.3" y2="360.5" stroke="#000" stroke-width="1.9" />
<line x1="917.7" y1="367.3" x2="923.1" y2="372.1" stroke="#000" stroke-width="1.9" />
<polygon points="923.7,372.9 918.3,370.3 922.4,367.5" fill="#000" />
<line x1="910.8" y1="379.1" x2="910.8" y2="384.1" stroke="#000" stroke-width="1.8" />
<circle cx="910.8" cy="384.1" r="2.3"/>
<polyline points="1093.1,353.6 1093.1,343.4 1179.5,343.4" fill="none" stroke="#000" stroke-width="1.9" />
<polyline points="1106.9,358.7 1128.6,358.7 1128.6,374.7 1106.9,374.7" fill="none" stroke="#000" stroke-width="1.8" />
<rect x="1122.4" y="364.8" width="11" height="4.2" fill="#fff" stroke="#000" stroke-width="1.4" rx="1.6"/>
<line x1="1133.6" y1="366.9" x2="1180.6" y2="366.9" stroke="#000" stroke-width="1.8" stroke-dasharray="13.6 3.5 14.4 3.0 14 0"/>
<polyline points="1101.8,379 1101.8,384.1 1179.5,384.1" fill="none" stroke="#000" stroke-width="1.8" />
<line x1="1084.6" y1="379.6" x2="1084.6" y2="384.1" stroke="#000" stroke-width="1.8" />
<circle cx="1084.6" cy="384.1" r="2.3"/>
<rect x="1081" y="354.3" width="25.2" height="24.6" fill="#fff" stroke="#000" stroke-width="1.7" rx="0"/>
<circle cx="1093.5" cy="366.5" r="9.6" fill="#fff" stroke="#000" stroke-width="1.7"/>
<line x1="1091.2" y1="360.9" x2="1091.2" y2="372.3" stroke="#000" stroke-width="2.3" />
<line x1="1086.5" y1="366.5" x2="1091.2" y2="366.5" stroke="#000" stroke-width="1.8" />
<line x1="1091.6" y1="365.7" x2="1097.2" y2="360.5" stroke="#000" stroke-width="1.9" />
<line x1="1091.6" y1="367.3" x2="1097" y2="372.1" stroke="#000" stroke-width="1.9" />
<polygon points="1097.6,372.9 1092.2,370.3 1096.3,367.5" fill="#000" />
<line x1="1179.5" y1="338.4" x2="1179.5" y2="361.2" stroke="#000" stroke-width="1.8" />
<line x1="1177.2" y1="361.2" x2="1181.8" y2="361.2" stroke="#000" stroke-width="1.3" />
<line x1="1177.2" y1="371.2" x2="1181.8" y2="371.2" stroke="#000" stroke-width="1.3" />
<line x1="1179.5" y1="371.2" x2="1179.5" y2="394.6" stroke="#000" stroke-width="1.8" />
<line x1="1179.3" y1="360.8" x2="1184.9" y2="372.4" stroke="#000" stroke-width="1.8" />
<circle cx="1179.5" cy="343.4" r="2.4"/>
<circle cx="1179.5" cy="384.1" r="2.4"/>
<text x="950.2" y="332.2" font-size="16.4">E</text>
<text transform="translate(961.44 332.2) scale(1.0 1)" font-size="10.2" text-anchor="start" >3</text>
<text x="1096" y="332.8" font-size="16.4">J</text>
<text transform="translate(1105.82 332.8) scale(1.0 1)" font-size="10.2" text-anchor="start" >2</text>
<rect x="736.7" y="232.6" width="20.4" height="10.8" fill="#fff" stroke="#000" stroke-width="1.7" rx="0.6"/>
<text transform="translate(746.9 241.3) scale(1.15 1)" font-size="8.8" text-anchor="middle" >148</text>
<rect x="744.1" y="243.4" width="5.4" height="14.6"/>
<text transform="translate(746.8 267.3) scale(1.03 1)" font-size="10" text-anchor="middle" >1,5</text>
<text transform="translate(746.8 278.6) scale(1.03 1)" font-size="10" text-anchor="middle" >ro/ge</text>
<line x1="746.8" y1="327.1" x2="746.8" y2="338.4" stroke="#000" stroke-width="1.9" />
<polygon points="742.8,330.4 744.4,330.3 746.8,327.9 749.2,330.3 750.8,330.4 749.7,327.4 743.9,327.4" fill="#000" />
<text transform="translate(752.2 334.8) scale(1.03 1)" font-size="10" text-anchor="start" >10/30</text>
<rect x="744.1" y="281.8" width="5.4" height="46.3"/>
<line x1="746.8" y1="394.6" x2="746.8" y2="405.5" stroke="#000" stroke-width="1.9" />
<polygon points="742.8,402.5 744.4,402.6 746.8,404.9 749.2,402.6 750.8,402.5 749.7,405.4 743.9,405.4" fill="#000" />
<text transform="translate(752 404.6) scale(1.03 1)" font-size="10" text-anchor="start" >5/WL</text>
<rect x="744.1" y="404.5" width="5.4" height="72.3"/>
<text transform="translate(746.8 486.8) scale(1.03 1)" font-size="10" text-anchor="middle" >1,0</text>
<text transform="translate(746.8 498.1) scale(1.03 1)" font-size="10" text-anchor="middle" >sw/ws</text>
<rect x="744.1" y="501" width="5.4" height="91"/>
<text transform="translate(746.8 602.8) scale(1.03 1)" font-size="10" text-anchor="middle" >1,0</text>
<text transform="translate(746.8 614.1) scale(1.03 1)" font-size="10" text-anchor="middle" >sw/ws</text>
<rect x="744.1" y="617.2" width="5.4" height="13.4"/>
<rect x="736.6" y="630.6" width="20.4" height="10.8" fill="#fff" stroke="#000" stroke-width="1.7" rx="0.6"/>
<text transform="translate(746.8 639.3) scale(1.15 1)" font-size="8.8" text-anchor="middle" >198</text>
<rect x="650" y="445.4" width="20.4" height="10.8" fill="#fff" stroke="#000" stroke-width="1.7" rx="0.6"/>
<text transform="translate(660.2 454.1) scale(1.15 1)" font-size="8.8" text-anchor="middle" >47</text>
<rect x="657.5" y="456.4" width="5.4" height="20.4"/>
<text transform="translate(660.2 486.8) scale(1.03 1)" font-size="10" text-anchor="middle" >1,0</text>
<text transform="translate(660.2 498.1) scale(1.03 1)" font-size="10" text-anchor="middle" >sw/ws</text>
<rect x="657.5" y="501" width="5.4" height="91"/>
<text transform="translate(660.2 602.8) scale(1.03 1)" font-size="10" text-anchor="middle" >1,0</text>
<text transform="translate(660.2 614.1) scale(1.03 1)" font-size="10" text-anchor="middle" >sw/ws</text>
<rect x="657.5" y="617.2" width="5.4" height="13.4"/>
<rect x="650" y="630.6" width="20.4" height="10.8" fill="#fff" stroke="#000" stroke-width="1.7" rx="0.6"/>
<text transform="translate(660.2 639.3) scale(1.15 1)" font-size="8.8" text-anchor="middle" >192</text>
<rect x="700.9" y="550.5" width="5.4" height="41.5"/>
<text transform="translate(703.6 602.8) scale(1.03 1)" font-size="10" text-anchor="middle" >0,35</text>
<text transform="translate(703.6 614.1) scale(1.03 1)" font-size="10" text-anchor="middle" >sw/ws</text>
<rect x="700.9" y="617.2" width="5.4" height="13.4"/>
<rect x="693.4" y="630.6" width="20.4" height="10.8" fill="#fff" stroke="#000" stroke-width="1.7" rx="0.6"/>
<text transform="translate(703.6 639.3) scale(1.15 1)" font-size="8.8" text-anchor="middle" >233</text>
<line x1="660.2" y1="550.5" x2="746.8" y2="550.5" stroke="#000" stroke-width="1.7" />
<circle cx="660.2" cy="550.5" r="3.6"/>
<circle cx="703.6" cy="550.5" r="3.6"/>
<circle cx="746.8" cy="550.5" r="3.6"/>
<circle cx="767.6" cy="537.4" r="13" fill="#fff" stroke="#000" stroke-width="1.8"/>
<text transform="translate(767.6 541) scale(1.02 1)" font-size="10" text-anchor="middle" >A6</text>
<line x1="790" y1="394.6" x2="790" y2="405.5" stroke="#000" stroke-width="1.9" />
<polygon points="786,402.5 787.6,402.6 790,404.9 792.4,402.6 794,402.5 792.9,405.4 787.1,405.4" fill="#000" />
<text transform="translate(795.2 404.6) scale(1.03 1)" font-size="10" text-anchor="start" >7/WR</text>
<rect x="787.3" y="404.5" width="5.4" height="72.3"/>
<text transform="translate(790 486.8) scale(1.03 1)" font-size="10" text-anchor="middle" >1,0</text>
<text transform="translate(790 498.1) scale(1.03 1)" font-size="10" text-anchor="middle" >sw/gn</text>
<rect x="787.3" y="501" width="5.4" height="245.2"/>
<text transform="translate(790 757) scale(1.03 1)" font-size="10" text-anchor="middle" >1,0</text>
<text transform="translate(790 768.3) scale(1.03 1)" font-size="10" text-anchor="middle" >sw/gn</text>
<rect x="787.3" y="771.2" width="5.4" height="16.8"/>
<rect x="779.8" y="787.8" width="20.4" height="10.8" fill="#fff" stroke="#000" stroke-width="1.7" rx="0.6"/>
<text transform="translate(790 796.5) scale(1.15 1)" font-size="8.8" text-anchor="middle" >49</text>
<rect x="822.4" y="570.2" width="20.4" height="10.8" fill="#fff" stroke="#000" stroke-width="1.7" rx="0.6"/>
<text transform="translate(832.6 578.9) scale(1.15 1)" font-size="8.8" text-anchor="middle" >235</text>
<rect x="830.3" y="581" width="5.4" height="11"/>
<text transform="translate(833 602.8) scale(1.03 1)" font-size="10" text-anchor="middle" >0,35</text>
<text transform="translate(833 614.1) scale(1.03 1)" font-size="10" text-anchor="middle" >sw/gn</text>
<rect x="830.3" y="617.2" width="5.4" height="129"/>
<text transform="translate(833 757) scale(1.03 1)" font-size="10" text-anchor="middle" >1,0</text>
<text transform="translate(833 768.3) scale(1.03 1)" font-size="10" text-anchor="middle" >sw/gn</text>
<rect x="830.3" y="771.2" width="5.4" height="16.8"/>
<rect x="822.8" y="787.8" width="20.4" height="10.8" fill="#fff" stroke="#000" stroke-width="1.7" rx="0.6"/>
<text transform="translate(833 796.5) scale(1.15 1)" font-size="8.8" text-anchor="middle" >169</text>
<line x1="790" y1="689.9" x2="876.7" y2="689.9" stroke="#000" stroke-width="1.7" />
<circle cx="790" cy="689.9" r="3.6"/>
<circle cx="833" cy="689.9" r="3.6"/>
<circle cx="876.7" cy="689.9" r="3.7"/>
<circle cx="766.8" cy="692.7" r="13.5" fill="#fff" stroke="#000" stroke-width="1.8"/>
<text transform="translate(766.8 696.3) scale(1.02 1)" font-size="10" text-anchor="middle" >A5</text>
<rect x="874" y="689.9" width="5.4" height="56.3"/>
<text transform="translate(876.7 757) scale(1.03 1)" font-size="10" text-anchor="middle" >1,0</text>
<text transform="translate(876.7 768.3) scale(1.03 1)" font-size="10" text-anchor="middle" >sw/gn</text>
<rect x="874" y="771.2" width="5.4" height="16.8"/>
<rect x="866.5" y="787.8" width="20.4" height="10.8" fill="#fff" stroke="#000" stroke-width="1.7" rx="0.6"/>
<text transform="translate(876.7 796.5) scale(1.15 1)" font-size="8.8" text-anchor="middle" >216</text>
<line x1="876.7" y1="394.6" x2="876.7" y2="405.5" stroke="#000" stroke-width="1.9" />
<polygon points="872.7,402.5 874.3,402.6 876.7,404.9 879.1,402.6 880.7,402.5 879.6,405.4 873.8,405.4" fill="#000" />
<text transform="translate(881.9 404.6) scale(1.03 1)" font-size="10" text-anchor="start" >6/ZV</text>
<rect x="874" y="404.5" width="5.4" height="72.3"/>
<text transform="translate(876.7 486.8) scale(1.03 1)" font-size="10" text-anchor="middle" >0,5</text>
<text transform="translate(876.7 498.1) scale(1.03 1)" font-size="10" text-anchor="middle" >sw/gn</text>
<rect x="874" y="501" width="5.4" height="91"/>
<rect x="871.9" y="530.4" width="9.2" height="11.2" fill="#fff" stroke="#000" stroke-width="1.6" rx="0.8"/>
<path d="M873.6,534.8 Q876.5,530.8 879.4,534.8" fill="none" stroke="#000" stroke-width="1.3"/>
<line x1="876.5" y1="534.2" x2="876.5" y2="541.6" stroke="#000" stroke-width="2.4" />
<text x="884.8" y="542.8" font-size="16.4">T</text>
<text transform="translate(893.52 542.8) scale(1.0 1)" font-size="10.2" text-anchor="start" >17</text>
<text transform="translate(892.8 554.2) scale(1.03 1)" font-size="10" text-anchor="start" >/4</text>
<text transform="translate(876.7 602.8) scale(1.03 1)" font-size="10" text-anchor="middle" >0,5</text>
<text transform="translate(876.7 614.1) scale(1.03 1)" font-size="10" text-anchor="middle" >sw/gn</text>
<rect x="874" y="617.2" width="5.4" height="24.2"/>
<polyline points="872.8,644.9 874.7,641.8 878.7,641.8 880.6,644.9" fill="none" stroke="#000" stroke-width="2" />
<text transform="translate(882.8 649.2) scale(1.03 1)" font-size="10" text-anchor="start" >1/9</text>
<text x="862.8" y="663.3" font-size="16.4">J</text>
<text transform="translate(872.62 663.3) scale(1.0 1)" font-size="10.2" text-anchor="start" >429</text>
<line x1="909.3" y1="460.8" x2="1016.4" y2="460.8" stroke="#000" stroke-width="1.7" />
<circle cx="930.4" cy="443.4" r="13.6" fill="#fff" stroke="#000" stroke-width="1.8"/>
<text transform="translate(930.4 447) scale(1.02 1)" font-size="10" text-anchor="middle" >A125</text>
<rect x="917.5" y="460.8" width="5.4" height="131.2"/>
<circle cx="920.2" cy="460.8" r="3.6"/>
<circle cx="963.2" cy="460.8" r="3.6"/>
<circle cx="1006.7" cy="460.8" r="3.6"/>
<text transform="translate(920.2 602.8) scale(1.03 1)" font-size="10" text-anchor="middle" >0,35</text>
<text transform="translate(920.2 614.1) scale(1.03 1)" font-size="10" text-anchor="middle" >li/bl</text>
<rect x="917.5" y="617.2" width="5.4" height="129"/>
<rect x="915.4" y="713.1" width="9.2" height="11.2" fill="#fff" stroke="#000" stroke-width="1.6" rx="0.8"/>
<path d="M917.1,717.5 Q920,713.5 922.9,717.5" fill="none" stroke="#000" stroke-width="1.3"/>
<line x1="920" y1="716.9" x2="920" y2="724.3" stroke="#000" stroke-width="2.4" />
<text x="928" y="725.6" font-size="16.4">T</text>
<text transform="translate(936.72 725.6) scale(1.0 1)" font-size="10.2" text-anchor="start" >17a</text>
<text transform="translate(936.2 737) scale(1.03 1)" font-size="10" text-anchor="start" >/7</text>
<text transform="translate(920.2 757) scale(1.03 1)" font-size="10" text-anchor="middle" >0,35</text>
<text transform="translate(920.2 768.3) scale(1.03 1)" font-size="10" text-anchor="middle" >li/bl</text>
<rect x="917.5" y="771.2" width="5.4" height="18"/>
<polyline points="916.3,792.7 918.2,789.6 922.2,789.6 924.1,792.7" fill="none" stroke="#000" stroke-width="2" />
<text transform="translate(925 797.4) scale(1.03 1)" font-size="10" text-anchor="start" >4/4</text>
<text x="906.2" y="810.4" font-size="16.4">J</text>
<text transform="translate(916.02 810.4) scale(1.0 1)" font-size="10.2" text-anchor="start" >429</text>
<line x1="963.2" y1="394.6" x2="963.2" y2="405.5" stroke="#000" stroke-width="1.9" />
<polygon points="959.2,402.5 960.8,402.6 963.2,404.9 965.6,402.6 967.2,402.5 966.1,405.4 960.3,405.4" fill="#000" />
<text transform="translate(968.4 404.6) scale(1.03 1)" font-size="10" text-anchor="start" >8/AB</text>
<rect x="960.5" y="404.5" width="5.4" height="20.1"/>
<text transform="translate(963.2 434.2) scale(1.03 1)" font-size="10" text-anchor="middle" >0,35</text>
<text transform="translate(963.2 445.5) scale(1.03 1)" font-size="10" text-anchor="middle" >li/bl</text>
<rect x="960.5" y="448.6" width="5.4" height="28.4"/>
<text transform="translate(963.2 487) scale(1.03 1)" font-size="10" text-anchor="middle" >0,35</text>
<text transform="translate(963.2 498.3) scale(1.03 1)" font-size="10" text-anchor="middle" >li/bl</text>
<rect x="960.5" y="500.6" width="5.4" height="91.4"/>
<rect x="958.5" y="530.4" width="9.2" height="11.2" fill="#fff" stroke="#000" stroke-width="1.6" rx="0.8"/>
<path d="M960.2,534.8 Q963.1,530.8 966,534.8" fill="none" stroke="#000" stroke-width="1.3"/>
<line x1="963.1" y1="534.2" x2="963.1" y2="541.6" stroke="#000" stroke-width="2.4" />
<text x="971.2" y="542.8" font-size="16.4">T</text>
<text transform="translate(979.92 542.8) scale(1.0 1)" font-size="10.2" text-anchor="start" >10av</text>
<text transform="translate(979.6 554.2) scale(1.03 1)" font-size="10" text-anchor="start" >/1</text>
<text transform="translate(963.2 602.8) scale(1.03 1)" font-size="10" text-anchor="middle" >0,5</text>
<text transform="translate(963.2 614.1) scale(1.03 1)" font-size="10" text-anchor="middle" >li/bl</text>
<rect x="960.5" y="617.2" width="5.4" height="37.1"/>
<circle cx="963.2" cy="654.3" r="3.8"/>
<line x1="963.2" y1="654.3" x2="963.2" y2="708.8" stroke="#000" stroke-width="1.3" />
<rect x="953" y="665.6" width="21" height="32" fill="#fff" stroke="#000" stroke-width="1.8" rx="0"/>
<rect x="956.2" y="668.6" width="14.6" height="26" fill="#e0e0e0"/>
<rect x="958.6" y="672.4" width="9.4" height="19.2" fill="#fff"/>
<rect x="959.6" y="673.6" width="7.6" height="16.8"/>
<line x1="963.2" y1="665.6" x2="963.2" y2="674" stroke="#000" stroke-width="1.3" />
<line x1="963.2" y1="690" x2="963.2" y2="697.6" stroke="#000" stroke-width="1.3" />
<text x="978" y="697.4" font-size="16.4">C</text>
<text transform="translate(989.84 697.4) scale(1.0 1)" font-size="10.2" text-anchor="start" >22</text>
<circle cx="963.2" cy="708.8" r="3.8"/>
<rect x="960.5" y="708.8" width="5.4" height="37.4"/>
<text transform="translate(963.2 757) scale(1.03 1)" font-size="10" text-anchor="middle" >0,5</text>
<text transform="translate(963.2 768.3) scale(1.03 1)" font-size="10" text-anchor="middle" >li/bl</text>
<rect x="960.5" y="771.2" width="5.4" height="18"/>
<polyline points="959.3,792.7 961.2,789.6 965.2,789.6 967.1,792.7" fill="none" stroke="#000" stroke-width="2" />
<text transform="translate(968.7 797.4) scale(1.03 1)" font-size="10" text-anchor="start" >69</text>
<text x="949.6" y="810.4" font-size="16.4">J</text>
<text transform="translate(959.42 810.4) scale(1.0 1)" font-size="10.2" text-anchor="start" >234</text>
<rect x="1004" y="460.8" width="5.4" height="16.2"/>
<text transform="translate(1006.7 487) scale(1.03 1)" font-size="10" text-anchor="middle" >0,35</text>
<text transform="translate(1006.7 498.3) scale(1.03 1)" font-size="10" text-anchor="middle" >li/bl</text>
<rect x="1004" y="500.6" width="5.4" height="30.8"/>
<rect x="1002.5" y="531.2" width="8.8" height="10.8" fill="#fff" stroke="#000" stroke-width="1.6" rx="0.5"/>
<polyline points="1003.8,541.6 1003.8,536 1006.9,532.8 1010,536 1010,541.6" fill="none" stroke="#000" stroke-width="1.6" />
<text x="1014.4" y="542.8" font-size="16.4">T</text>
<text transform="translate(1023.12 542.8) scale(1.0 1)" font-size="10.2" text-anchor="start" >3au</text>
<text transform="translate(1022.6 554.2) scale(1.03 1)" font-size="10" text-anchor="start" >/2</text>
<line x1="1050" y1="394.6" x2="1050" y2="405.5" stroke="#000" stroke-width="1.9" />
<polygon points="1046,402.5 1047.6,402.6 1050,404.9 1052.4,402.6 1054,402.5 1052.9,405.4 1047.1,405.4" fill="#000" />
<text transform="translate(1055.2 404.6) scale(1.03 1)" font-size="10" text-anchor="start" >4/58</text>
<rect x="1047.3" y="404.5" width="5.4" height="72.3"/>
<text transform="translate(1050 486.8) scale(1.03 1)" font-size="10" text-anchor="middle" >0,35</text>
<text transform="translate(1050 498.1) scale(1.03 1)" font-size="10" text-anchor="middle" >sw/bl</text>
<rect x="1047.3" y="501" width="5.4" height="12"/>
<rect x="1039.7" y="513" width="20.4" height="10.8" fill="#fff" stroke="#000" stroke-width="1.7" rx="0.6"/>
<text transform="translate(1049.9 521.7) scale(1.15 1)" font-size="8.8" text-anchor="middle" >123</text>
<line x1="1093.5" y1="394.6" x2="1093.5" y2="405.5" stroke="#000" stroke-width="1.9" />
<polygon points="1089.5,402.5 1091.1,402.6 1093.5,404.9 1095.9,402.6 1097.5,402.5 1096.4,405.4 1090.6,405.4" fill="#000" />
<text transform="translate(1098.7 404.6) scale(1.03 1)" font-size="10" text-anchor="start" >9/31</text>
<rect x="1090.8" y="404.5" width="5.4" height="342.1"/>
<text transform="translate(1093.5 757) scale(1.03 1)" font-size="10" text-anchor="middle" >0,35</text>
<text transform="translate(1093.5 768.3) scale(1.03 1)" font-size="10" text-anchor="middle" >br</text>
<rect x="1090.8" y="771.2" width="5.4" height="62.4"/>
<circle cx="1093.5" cy="833.9" r="3.8"/>
<circle cx="1111.6" cy="818.4" r="10.6" fill="#fff" stroke="#000" stroke-width="1.8"/>
<text transform="translate(1111.6 821.3) scale(0.97 1)" font-size="10" text-anchor="middle" >213</text>
<rect x="1169.6" y="232.6" width="20.4" height="10.8" fill="#fff" stroke="#000" stroke-width="1.7" rx="0.6"/>
<text transform="translate(1179.8 241.3) scale(1.15 1)" font-size="8.8" text-anchor="middle" >103</text>
<rect x="1176.8" y="243.4" width="5.4" height="14.6"/>
<text transform="translate(1179.5 267.3) scale(1.03 1)" font-size="10" text-anchor="middle" >1,5</text>
<text transform="translate(1179.5 278.6) scale(1.03 1)" font-size="10" text-anchor="middle" >sw/gn</text>
<line x1="1179.5" y1="327.1" x2="1179.5" y2="338.4" stroke="#000" stroke-width="1.9" />
<polygon points="1175.5,330.4 1177.1,330.3 1179.5,327.9 1181.9,330.3 1183.5,330.4 1182.4,327.4 1176.6,327.4" fill="#000" />
<text transform="translate(1184.9 334.8) scale(1.03 1)" font-size="10" text-anchor="start" >2/75</text>
<rect x="1176.8" y="281.8" width="5.4" height="46.3"/>
<line x1="1179.5" y1="394.6" x2="1179.5" y2="405.5" stroke="#000" stroke-width="1.9" />
<polygon points="1175.5,402.5 1177.1,402.6 1179.5,404.9 1181.9,402.6 1183.5,402.5 1182.4,405.4 1176.6,405.4" fill="#000" />
<text transform="translate(1184.7 404.6) scale(1.03 1)" font-size="10" text-anchor="start" >3/49a</text>
<rect x="1176.8" y="404.5" width="5.4" height="72.3"/>
<text transform="translate(1179.5 486.8) scale(1.03 1)" font-size="10" text-anchor="middle" >1,0</text>
<text transform="translate(1179.5 498.1) scale(1.03 1)" font-size="10" text-anchor="middle" >sw/ws/gn</text>
<rect x="1176.8" y="501" width="5.4" height="12"/>
<rect x="1169.7" y="513" width="20.4" height="10.8" fill="#fff" stroke="#000" stroke-width="1.7" rx="0.6"/>
<text transform="translate(1179.9 521.7) scale(1.15 1)" font-size="8.8" text-anchor="middle" >48</text>
<polyline points="1136.3,746.6 1136.3,731.6 1179.8,731.6 1179.8,833.6" fill="none" stroke="#000" stroke-width="5.4" />
<text transform="translate(1136.3 757) scale(1.03 1)" font-size="10" text-anchor="middle" >4,0</text>
<text transform="translate(1136.3 768.3) scale(1.03 1)" font-size="10" text-anchor="middle" >br</text>
<rect x="1133.6" y="771.2" width="5.4" height="62.4"/>
<circle cx="1136.3" cy="833.9" r="3.8"/>
<circle cx="1179.8" cy="833.9" r="3.8"/>
<circle cx="1153.8" cy="818.4" r="10.6" fill="#fff" stroke="#000" stroke-width="1.8"/>
<text transform="translate(1153.8 821.3) scale(0.97 1)" font-size="10" text-anchor="middle" >81</text>
<circle cx="1197.3" cy="818.4" r="10.6" fill="#fff" stroke="#000" stroke-width="1.8"/>
<text transform="translate(1197.3 821.3) scale(0.97 1)" font-size="10" text-anchor="middle" >213</text>
</svg>
</body></html>
